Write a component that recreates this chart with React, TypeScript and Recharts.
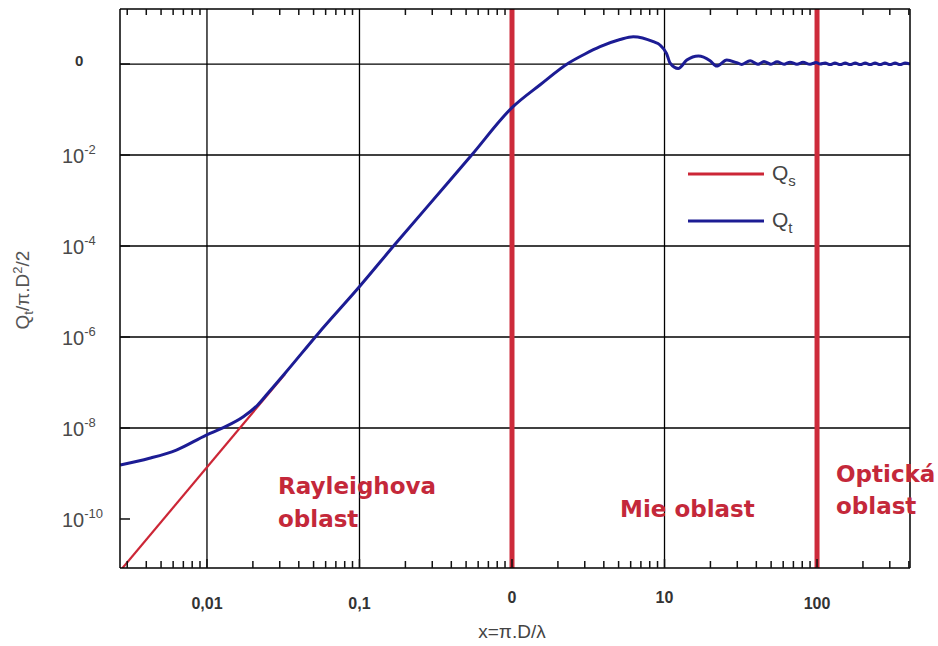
import React from 'react';
import { LineChart, Line, XAxis, YAxis, ReferenceLine, Legend } from 'recharts';

const X_DOMAIN: [number, number] = [0.00269, 407];
const Y_DOMAIN: [number, number] = [8.37e-12, 16.2];

// Qs (Rayleigh asymptote, straight in log-log)
const qsX = [0.0027, 0.0325];
const qsY = [7.3e-12, 1.53e-7];

// Qt (total)
const qtX = [
  0.0027, 0.0042, 0.0063, 0.0099, 0.0128, 0.0173, 0.0215, 0.0259, 0.0325, 0.0537, 0.0998,
  0.171, 0.38, 0.544, 1.0, 1.53, 2.34, 3.01, 3.78, 5.11, 6.24, 8.45, 9.34, 10.3, 10.9,
  12.3, 14.0, 16.7, 19.9, 22.0, 25.6, 29.7, 32.1, 36.4, 41.0, 44.9, 49.9, 54.7, 60.8,
  66.5, 73.9, 80.9, 90.0, 98.5, 104.7, 113, 122, 131, 142, 153, 165, 178, 192, 207,
  223, 240, 259, 279, 301, 325, 350, 378, 407,
];
const qtY = [
  1.54e-9, 2.16e-9, 3.28e-9, 7.0e-9, 1.02e-8, 1.77e-8, 3.2e-8, 6.6e-8, 1.6e-7, 1.2e-6, 1.27e-5,
  1.09e-4, 2.45e-3, 1.0e-2, 0.11, 0.35, 1.04, 1.66, 2.4, 3.45, 3.98, 3.09, 2.62, 1.72, 1.04,
  0.8, 1.22, 1.5, 1.18, 0.9, 1.22, 1.07, 0.98, 1.18, 0.99, 1.13, 0.99, 1.12, 0.99,
  1.1, 0.99, 1.09, 0.99, 1.08, 1.0, 1.05, 0.975, 1.05, 0.975, 1.05, 0.975, 1.05, 0.975, 1.05,
  0.975, 1.05, 0.975, 1.05, 0.975, 1.05, 0.975, 1.05, 1.0,
];

const xMajorTicks = [0.01, 0.1, 1, 10, 100];
const xMajorLabels = ['0,01', '0,1', '0', '10', '100'];
const xMinorTicks = [
  0.003, 0.004, 0.005, 0.006, 0.007, 0.008, 0.009,
  0.02, 0.03, 0.04, 0.05, 0.06, 0.07, 0.08, 0.09,
  0.2, 0.3, 0.4, 0.5, 0.6, 0.7, 0.8, 0.9,
  2, 3, 4, 5, 6, 7, 8, 9,
  20, 30, 40, 50, 60, 70, 80, 90,
  200, 300, 400,
];
const yTicks = [1, 1e-2, 1e-4, 1e-6, 1e-8, 1e-10];
const yTickExponents = ['', '-2', '-4', '-6', '-8', '-10'];
const yGridValues = [1, 1e-2, 1e-4, 1e-6, 1e-8];
const xGridValues = [0.01, 0.1, 1, 10];
const regionBoundaries = [1, 100];

const seriesNames = ['s', 't'];
const seriesColors = ['#cc2636', '#1c1c94'];

const qsData = qsX.map((x, i) => ({ x, y: qsY[i] }));
const qtData = qtX.map((x, i) => ({ x, y: qtY[i] }));
const allXTicks = [...xMajorTicks, ...xMinorTicks].sort((a, b) => a - b);

const SANS = "'Liberation Sans', Arial, sans-serif";
const BOLD_SANS = "'DejaVu Sans', Verdana, sans-serif";
const REGION_RED = '#c4283a';
const TICK_LEN = 7;

const same = (a: number, b: number) => Math.abs(Math.log10(a) - Math.log10(b)) < 1e-6;

const XTickBottom = (props: any) => {
  const { x, y, payload } = props;
  const idx = xMajorTicks.findIndex((t) => same(t, payload.value));
  if (idx < 0) {
    return <rect x={x - 0.75} y={y - TICK_LEN} width={1.5} height={TICK_LEN} fill="#111" />;
  }
  const raised = idx === 2 || idx === 3;
  return (
    <g>
      <rect x={x - 0.75} y={y - TICK_LEN - 2} width={1.5} height={TICK_LEN + 2} fill="#111" />
      <text
        x={x}
        y={y + (raised ? 35 : 41)}
        textAnchor="middle"
        fontFamily={SANS}
        fontWeight="bold"
        fontSize={16}
        fill="#333"
      >
        {xMajorLabels[idx]}
      </text>
    </g>
  );
};

const XTickTop = (props: any) => {
  const { x, y, payload } = props;
  const major = xMajorTicks.some((t) => same(t, payload.value));
  if (major) return <g />;
  return <rect x={x - 0.75} y={y} width={1.5} height={TICK_LEN - 1} fill="#111" />;
};

const YTick = (props: any) => {
  const { x, y, payload } = props;
  const i = yTicks.findIndex((t) => same(t, payload.value));
  const exp = yTickExponents[i];
  return (
    <g>
      <rect x={x} y={y - 0.75} width={10} height={1.5} fill="#111" />
      {exp === '' ? (
        <text x={x - 45} y={y + 2} fontFamily={SANS} fontWeight="bold" fontSize={15} fill="#333">
          0
        </text>
      ) : (
        <text x={x - 58} y={y + 8} fontFamily={SANS} fontSize={20} fill="#4a4a4a">
          10
          <tspan fontSize={13} dy={-9}>
            {exp}
          </tspan>
        </text>
      )}
    </g>
  );
};

const LegendContent = () => (
  <svg width={150} height={80}>
    {seriesNames.map((n, i) => (
      <g key={n}>
        <line x1={2} x2={78} y1={14 + i * 47} y2={14 + i * 47} stroke={seriesColors[i]} strokeWidth={3} />
        <text x={86} y={20 + i * 47} fontFamily={SANS} fontSize={21} fill="#444">
          Q
          <tspan fontSize={15} dy={6}>
            {n}
          </tspan>
        </text>
      </g>
    ))}
  </svg>
);

export default function App() {
  return (
    <div style={{ position: 'absolute', left: 0, top: 0, width: 938, height: 646, background: '#fff' }}>
      <LineChart width={938} height={646} margin={{ top: 8, right: 27, bottom: 0, left: 8 }}>
        <XAxis
          dataKey="x"
          type="number"
          scale="log"
          domain={X_DOMAIN}
          allowDataOverflow
          ticks={allXTicks}
          interval={0}
          tick={(p: any) => <XTickBottom {...p} />}
          tickLine={false}
          tickSize={0}
          tickMargin={0}
          height={78}
          axisLine={{ stroke: '#000', strokeWidth: 1.5 }}
        />
        <XAxis
          xAxisId="top"
          orientation="top"
          dataKey="x"
          type="number"
          scale="log"
          domain={X_DOMAIN}
          allowDataOverflow
          ticks={allXTicks}
          interval={0}
          tick={(p: any) => <XTickTop {...p} />}
          tickLine={false}
          tickSize={0}
          tickMargin={0}
          height={1}
          axisLine={{ stroke: '#000', strokeWidth: 1.5 }}
        />
        <YAxis
          type="number"
          scale="log"
          domain={Y_DOMAIN}
          allowDataOverflow
          ticks={yTicks}
          interval={0}
          tick={(p: any) => <YTick {...p} />}
          tickLine={false}
          tickSize={0}
          tickMargin={0}
          width={112}
          axisLine={{ stroke: '#000', strokeWidth: 1.5 }}
        />
        <YAxis
          yAxisId="right"
          orientation="right"
          type="number"
          scale="log"
          domain={Y_DOMAIN}
          allowDataOverflow
          tick={false}
          tickLine={false}
          width={1}
          axisLine={{ stroke: '#000', strokeWidth: 1.5 }}
        />
        {yGridValues.map((v) => (
          <ReferenceLine key={'h' + v} y={v} stroke="#000" strokeWidth={1.3} />
        ))}
        {xGridValues.map((v) => (
          <ReferenceLine key={'v' + v} x={v} stroke="#000" strokeWidth={1.3} />
        ))}
        {regionBoundaries.map((v) => (
          <ReferenceLine key={'r' + v} x={v} stroke="#cd2b3b" strokeWidth={5} />
        ))}
        <Line
          data={qsData}
          dataKey="y"
          name="Qs"
          type="linear"
          stroke={seriesColors[0]}
          strokeWidth={2.2}
          dot={false}
          isAnimationActive={false}
        />
        <Line
          data={qtData}
          dataKey="y"
          name="Qt"
          type="monotone"
          stroke={seriesColors[1]}
          strokeWidth={3}
          dot={false}
          isAnimationActive={false}
        />
        <Legend
          layout="horizontal"
          verticalAlign="middle"
          align="center"
          content={() => <LegendContent />}
          wrapperStyle={{ position: 'absolute', left: 686, top: 160, width: 150, height: 80 }}
        />
      </LineChart>
      <svg
        width={938}
        height={646}
        style={{ position: 'absolute', left: 0, top: 0, pointerEvents: 'none' }}
      >
        <text
          x={29}
          y={290}
          transform="rotate(-90 29 290)"
          textAnchor="middle"
          fontFamily={SANS}
          fontSize={19}
          fill="#555"
        >
          Q
          <tspan fontSize={13} dy={4}>
            t
          </tspan>
          <tspan dy={-4}>/π.D</tspan>
          <tspan fontSize={13} dy={-7}>
            2
          </tspan>
          <tspan dy={7}>/2</tspan>
        </text>
        <text x={512} y={638} textAnchor="middle" fontFamily={SANS} fontSize={19} fill="#444">
          x=π.D/λ
        </text>
        <g fontFamily={BOLD_SANS} fontWeight="bold" fontSize={23} fill={REGION_RED}>
          <text x={278} y={494}>Rayleighova</text>
          <text x={278} y={527}>oblast</text>
          <text x={620} y={517}>Mie oblast</text>
          <text x={836} y={482}>Optická</text>
          <text x={836} y={514}>oblast</text>
        </g>
      </svg>
    </div>
  );
}
